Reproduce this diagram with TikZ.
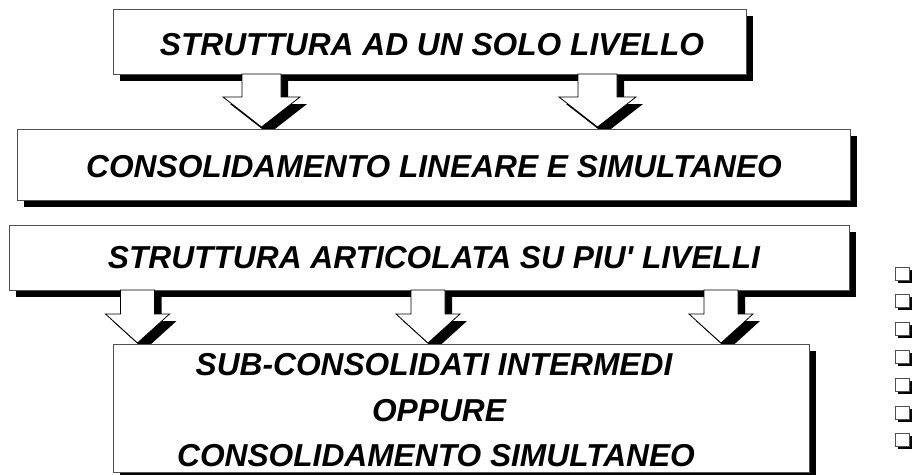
\documentclass[tikz,border=0pt]{standalone}
\usepackage{fontspec}
\setmainfont{Liberation Sans}[Ligatures=TeXOff]
\usetikzlibrary{shadows}
\definecolor{linegray}{RGB}{80,80,80}
\tikzset{
  boxnode/.style={draw=linegray, fill=white, line width=0.9pt, inner sep=0pt,
    drop shadow={shadow xshift=7pt, shadow yshift=-7pt, fill=black, opacity=1}},
  sqnode/.style={draw=linegray, fill=white, line width=0.8pt, inner sep=0pt,
    minimum width=14pt, minimum height=13pt,
    drop shadow={shadow xshift=2.5pt, shadow yshift=-2.5pt, fill=black, opacity=1}},
  lbl/.style={font=\fontsize{31.7}{38}\selectfont\bfseries\itshape,
    text height=22.7pt, text depth=0pt, inner sep=0pt},
  arrowbody/.style={draw=black, fill=white, line width=0.8pt, line join=miter},
  arrowshadow/.style={fill=black}
}
% block arrow: centre x, top y, head y, tip y, half shaft, half head
\newcommand\blkarrow[6]{%
  \fill[arrowshadow, shift={(7,7)}] (#1-#5,#2) -- (#1-#5,#3) -- (#1-#6,#3) -- (#1,#4)
     -- (#1+#6,#3) -- (#1+#5,#3) -- (#1+#5,#2) -- cycle;
  \filldraw[arrowbody] (#1-#5,#2) -- (#1-#5,#3) -- (#1-#6,#3) -- (#1,#4)
     -- (#1+#6,#3) -- (#1+#5,#3) -- (#1+#5,#2) -- cycle;
}
\begin{document}
\begin{tikzpicture}[x=1pt, y=-1pt]
\useasboundingbox (0,0) rectangle (913,474);

% level 1 box
\node[boxnode, minimum width=633pt, minimum height=65pt] (b1) at (429.5,41.5) {};
\node[lbl] (t1) at (432,44) {STRUTTURA AD UN SOLO LIVELLO};
\blkarrow{261.5}{74}{97}{127}{19.5}{38.5}
\blkarrow{597.5}{74}{97}{127}{19.5}{38.5}

% level 2 box
\node[boxnode, minimum width=833pt, minimum height=71pt] (b2) at (433.5,164.5) {};
\node[lbl] (t2) at (434,166.5) {CONSOLIDAMENTO LINEARE E SIMULTANEO};

% level 3 box
\node[boxnode, minimum width=840pt, minimum height=65pt] (b3) at (429,257.5) {};
\node[lbl] (t3) at (434,257.5) {STRUTTURA ARTICOLATA SU PIU' LIVELLI};
\blkarrow{137.5}{290}{314}{343}{17}{32}
\blkarrow{428}{290}{314}{343}{17}{32}
\blkarrow{721}{290}{314}{343}{17}{32}

% level 4 box
\node[boxnode, minimum width=696pt, minimum height=128pt] (b4) at (461,408) {};
\node[lbl] (t4a) at (434,364) {SUB-CONSOLIDATI INTERMEDI};
\node[lbl] (t4b) at (439,410) {OPPURE};
\node[lbl] (t4c) at (436,455) {CONSOLIDAMENTO SIMULTANEO};

% small squares on the right
\foreach \i in {0,...,6} {
  \node[sqnode] (s\i) at (902,273.5+27.8*\i) {};
}
\end{tikzpicture}
\end{document}
